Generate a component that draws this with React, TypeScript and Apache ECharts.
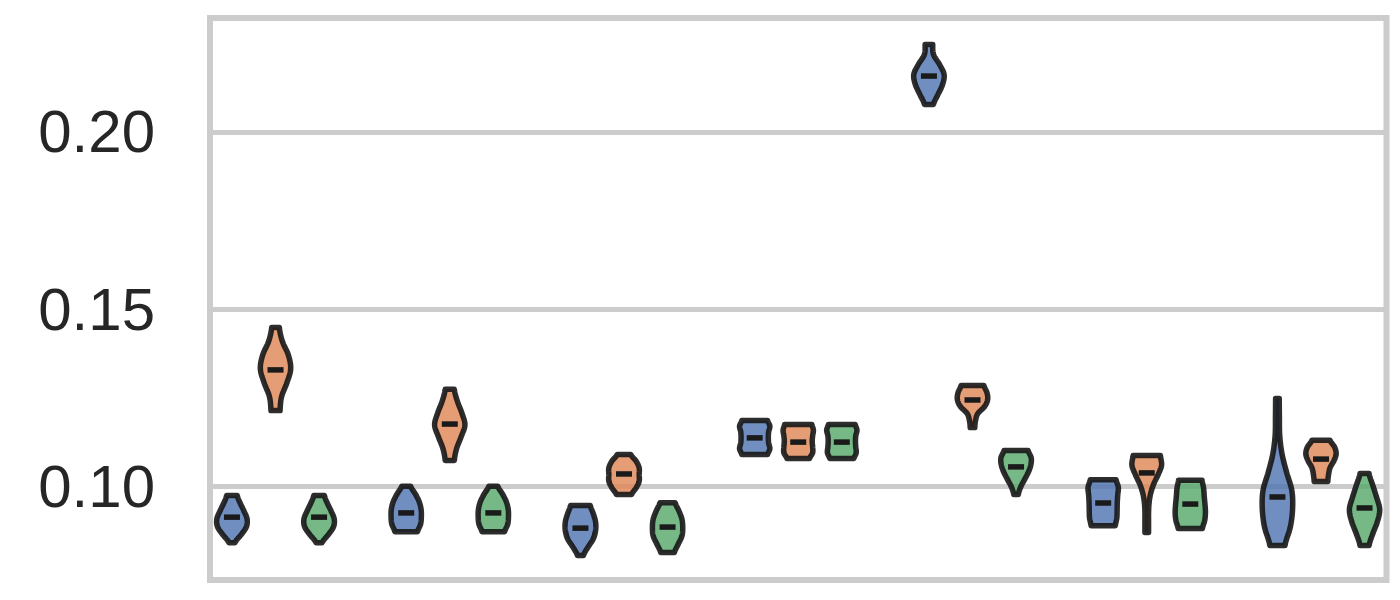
import React, { useEffect, useRef } from "react";
import * as echarts from "echarts";

// Seven groups, three hues each (blue, orange, green)
const groupIndex = [0, 1, 2, 3, 4, 5, 6];
const hueNames = ["blue", "orange", "green"];
const tickValues = [0.1, 0.15, 0.2];

// Violin extents (data range) and medians
const blueLow = [0.084, 0.0871, 0.0804, 0.1089, 0.2078, 0.0888, 0.0832];
const blueHigh = [0.0973, 0.0999, 0.0945, 0.1185, 0.2247, 0.1018, 0.1247];
const blueMedian = [0.0912, 0.0924, 0.0881, 0.1136, 0.2158, 0.0952, 0.0969];

const orangeLow = [0.1213, 0.1072, 0.0976, 0.1078, 0.1165, 0.0869, 0.1013];
const orangeHigh = [0.1448, 0.1273, 0.1089, 0.1174, 0.1284, 0.1086, 0.1129];
const orangeMedian = [0.1328, 0.1175, 0.1034, 0.1124, 0.1243, 0.1037, 0.1076];

const greenLow = [0.084, 0.0871, 0.0812, 0.1078, 0.0976, 0.088, 0.0832];
const greenHigh = [0.0973, 0.0999, 0.0953, 0.1174, 0.11, 0.1016, 0.1035];
const greenMedian = [0.0912, 0.0924, 0.0884, 0.1124, 0.1054, 0.0949, 0.0938];

// Relative half-width of each violin, bottom to top, evenly spaced
const blueShapes = [
  [0.2, 0.6, 0.95, 1.0, 0.8, 0.55, 0.35],
  [0.75, 0.95, 1.0, 0.98, 0.85, 0.6, 0.3],
  [0.2, 0.5, 0.85, 1.0, 1.0, 0.85, 0.65],
  [0.85, 1.0, 0.92, 0.9, 0.92, 1.0, 0.85],
  [0.3, 0.6, 0.9, 1.0, 0.7, 0.3, 0.25],
  [0.8, 0.9, 0.92, 0.93, 0.96, 1.0, 0.85],
  [0.5, 0.85, 1.0, 0.95, 0.6, 0.3, 0.15, 0.13, 0.12],
];
const orangeShapes = [
  [0.3, 0.4, 0.75, 1.0, 0.85, 0.45, 0.25],
  [0.3, 0.45, 0.75, 1.0, 0.8, 0.5, 0.3],
  [0.5, 0.8, 1.0, 1.0, 1.0, 0.8, 0.45],
  [0.75, 0.95, 0.95, 0.92, 0.95, 1.0, 0.9],
  [0.15, 0.2, 0.35, 0.8, 1.0, 0.95, 0.75],
  [0.12, 0.12, 0.12, 0.15, 0.25, 0.45, 0.75, 0.98, 0.9],
  [0.45, 0.5, 0.6, 0.85, 1.0, 0.9, 0.6],
];
const greenShapes = [
  [0.2, 0.6, 0.95, 1.0, 0.8, 0.55, 0.35],
  [0.75, 0.95, 1.0, 0.98, 0.85, 0.6, 0.3],
  [0.45, 0.7, 0.95, 1.0, 0.95, 0.75, 0.5],
  [0.8, 0.95, 0.92, 0.9, 0.92, 1.0, 0.88],
  [0.15, 0.3, 0.55, 0.8, 0.97, 1.0, 0.8],
  [0.8, 0.95, 1.0, 0.97, 0.92, 0.88, 0.78],
  [0.3, 0.55, 0.85, 1.0, 0.8, 0.55, 0.3],
];

const LOWS = [blueLow, orangeLow, greenLow];
const HIGHS = [blueHigh, orangeHigh, greenHigh];
const MEDIANS = [blueMedian, orangeMedian, greenMedian];
const SHAPES = [blueShapes, orangeShapes, greenShapes];
const FILLS = ["rgba(76,114,176,0.8)", "rgba(221,132,82,0.8)", "rgba(85,168,104,0.8)"];
const HUE_OFFSET = [-0.25, 0, 0.25];
const HALF_WIDTH = 0.087;

function sampleProfile(p: number[], t: number): number {
  const n = p.length - 1;
  const f = t * n;
  let i = Math.floor(f);
  if (i >= n) i = n - 1;
  const u = f - i;
  const p0 = p[Math.max(i - 1, 0)];
  const p1 = p[i];
  const p2 = p[i + 1];
  const p3 = p[Math.min(i + 2, n)];
  const u2 = u * u;
  const u3 = u2 * u;
  const v =
    0.5 *
    (2 * p1 +
      (-p0 + p2) * u +
      (2 * p0 - 5 * p1 + 4 * p2 - p3) * u2 +
      (-p0 + 3 * p1 - 3 * p2 + p3) * u3);
  return Math.max(0.08, Math.min(1.02, v));
}

export default function App() {
  const ref = useRef<HTMLDivElement>(null);
  useEffect(() => {
    if (!ref.current) return;
    const chart = echarts.init(ref.current, undefined, { renderer: "svg" });

    const data: number[][] = [];
    groupIndex.forEach((g) => {
      hueNames.forEach((_, h) => {
        data.push([g, h, MEDIANS[h][g]]);
      });
    });

    const renderItem = (params: any, api: any) => {
      const g = api.value(0);
      const h = api.value(1);
      const low = LOWS[h][g];
      const high = HIGHS[h][g];
      const med = MEDIANS[h][g];
      const prof = SHAPES[h][g];
      const xc = g + HUE_OFFSET[h];
      const halfPx = api.size([1, 0])[0] * HALF_WIDTH;
      const N = 60;
      const right: number[][] = [];
      const left: number[][] = [];
      for (let k = 0; k <= N; k++) {
        const t = k / N;
        const v = low + (high - low) * t;
        const w = sampleProfile(prof, t);
        const c = api.coord([xc, v]);
        right.push([c[0] + w * halfPx, c[1]]);
        left.push([c[0] - w * halfPx, c[1]]);
      }
      const pts = right.concat(left.reverse());
      const m = api.coord([xc, med]);
      return {
        type: "group",
        children: [
          {
            type: "polygon",
            shape: { points: pts },
            style: {
              fill: FILLS[h],
              stroke: "rgba(22,22,22,0.9)",
              lineWidth: 5.5,
              lineJoin: "round",
            },
          },
          {
            type: "rect",
            shape: { x: m[0] - 8, y: m[1] - 2.75, width: 16, height: 5.5 },
            style: { fill: "#1a1a1a" },
          },
        ],
      };
    };

    chart.setOption({
      animation: false,
      backgroundColor: "#ffffff",
      grid: {
        left: 210,
        right: 13.5,
        top: 18,
        bottom: 20,
        show: true,
        borderColor: "#cccccc",
        borderWidth: 6,
        backgroundColor: "#ffffff",
      },
      xAxis: {
        type: "value",
        min: -0.376,
        max: 6.376,
        axisLine: { show: false },
        axisTick: { show: false },
        axisLabel: { show: false },
        splitLine: { show: false },
      },
      yAxis: {
        type: "value",
        min: 0.07345,
        max: 0.2322,
        axisLine: { show: false },
        axisTick: { show: false },
        splitLine: { show: false },
        axisLabel: {
          customValues: tickValues,
          formatter: (v: number) => v.toFixed(2),
          fontSize: 60,
          fontFamily: "Liberation Sans",
          color: "#262626",
          margin: 55,
        },
      },
      series: [
        {
          type: "custom",
          renderItem,
          data,
          encode: { x: 0, y: 2 },
          z: 3,
          silent: true,
          markLine: {
            silent: true,
            symbol: "none",
            z: 1,
            label: { show: false },
            emphasis: { disabled: true },
            lineStyle: { color: "#cccccc", width: 5, type: "solid" },
            data: tickValues.map((v) => ({ yAxis: v })),
          },
        },
      ],
    });
    return () => chart.dispose();
  }, []);
  return (
    <div
      ref={ref}
      style={{ position: "fixed", left: 0, top: 0, width: 1400, height: 600 }}
    />
  );
}
